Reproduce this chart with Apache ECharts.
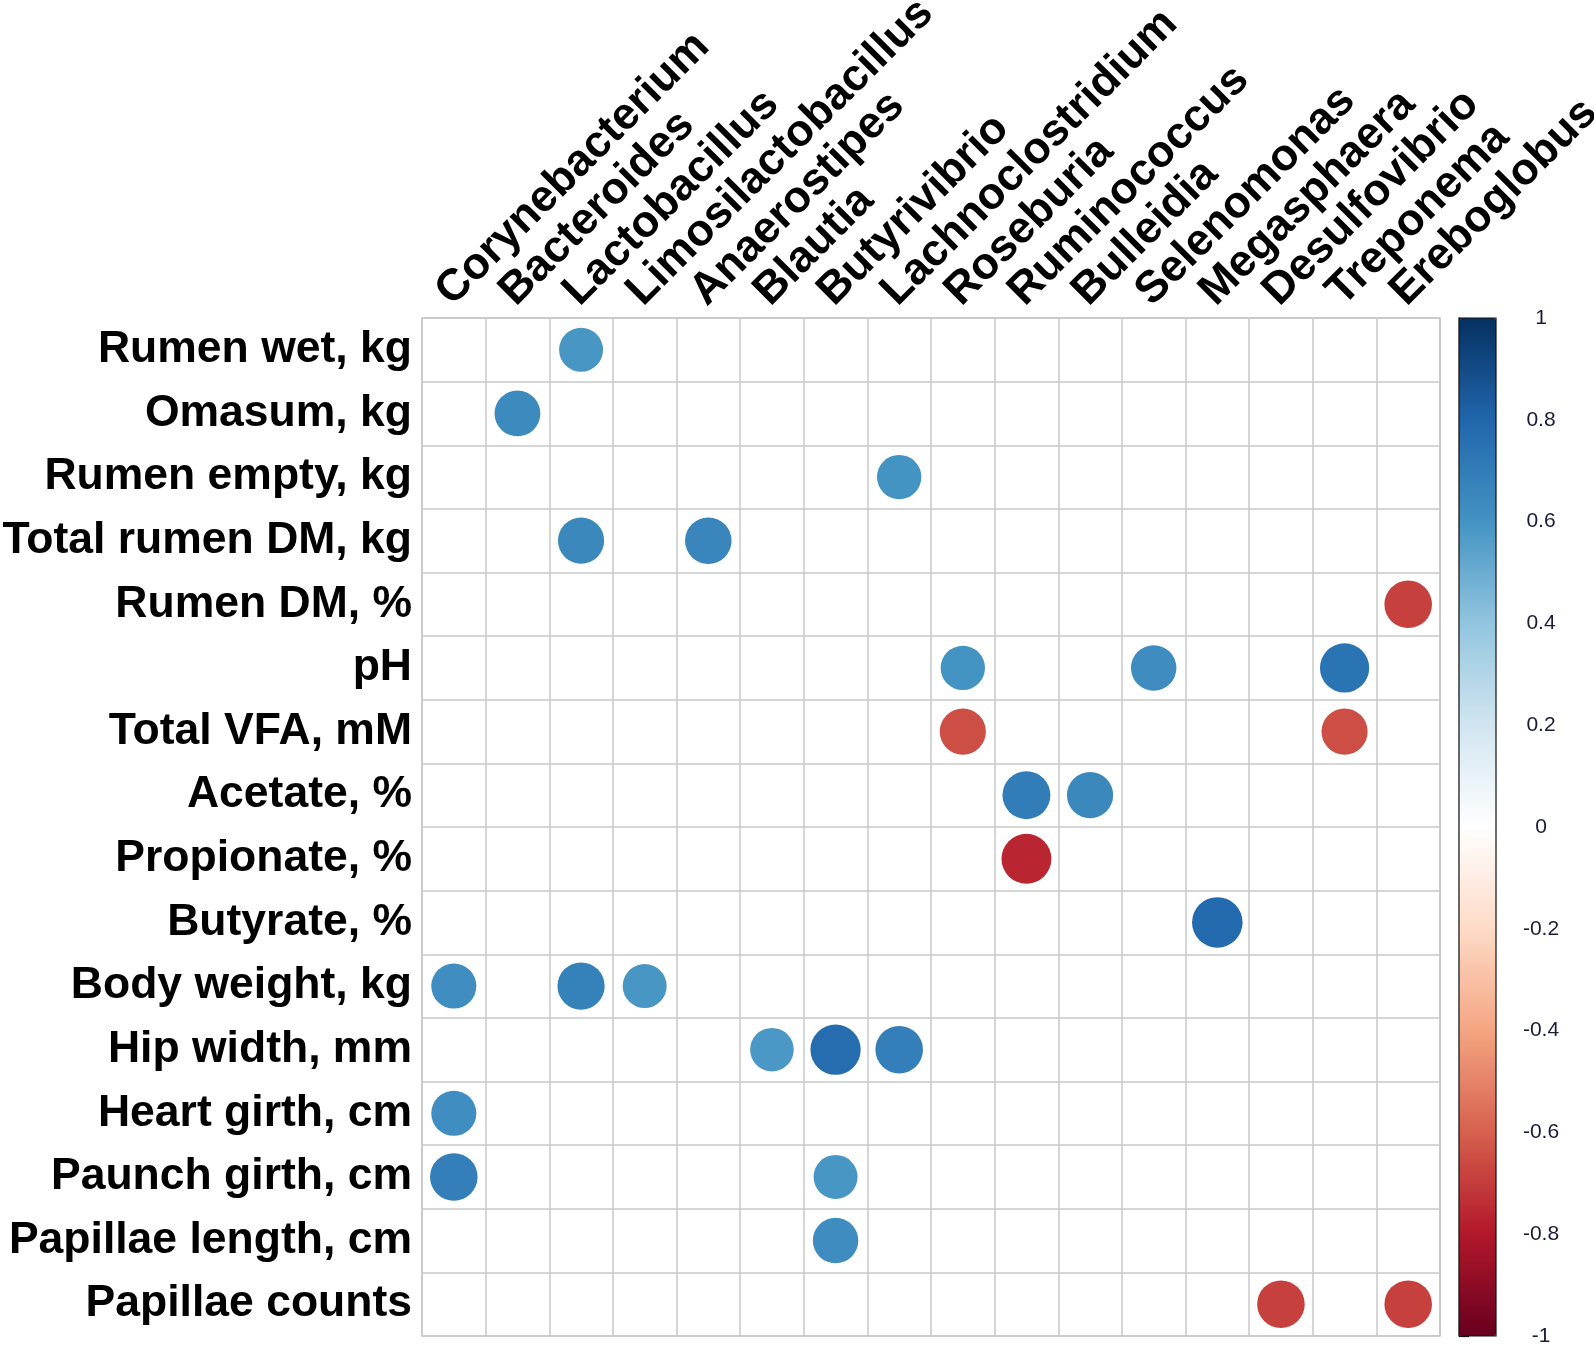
<!DOCTYPE html>
<html>
<head>
<meta charset="utf-8">
<script src="https://cdn.jsdelivr.net/npm/echarts@6/dist/echarts.min.js"></script>
<style>
html,body{margin:0;padding:0;background:#fff;}
#chart{width:1594px;height:1350px;}
</style>
</head>
<body>
<div id="chart"></div>
<script>
// ---- data ----
var genera = ['Corynebacterium','Bacteroides','Lactobacillus','Limosilactobacillus','Anaerostipes','Blautia','Butyrivibrio','Lachnoclostridium','Roseburia','Ruminococcus','Bulleidia','Selenomonas','Megasphaera','Desulfovibrio','Treponema','Ereboglobus'];
var traits = ['Rumen wet, kg','Omasum, kg','Rumen empty, kg','Total rumen DM, kg','Rumen DM, %','pH','Total VFA, mM','Acetate, %','Propionate, %','Butyrate, %','Body weight, kg','Hip width, mm','Heart girth, cm','Paunch girth, cm','Papillae length, cm','Papillae counts'];
// significant correlations: [genus, trait, r]
var corrCells = [
  ['Lactobacillus','Rumen wet, kg',0.59],
  ['Bacteroides','Omasum, kg',0.64],
  ['Lachnoclostridium','Rumen empty, kg',0.60],
  ['Lactobacillus','Total rumen DM, kg',0.65],
  ['Anaerostipes','Total rumen DM, kg',0.66],
  ['Ereboglobus','Rumen DM, %',-0.69],
  ['Roseburia','pH',0.60],
  ['Selenomonas','pH',0.63],
  ['Treponema','pH',0.74],
  ['Roseburia','Total VFA, mM',-0.65],
  ['Treponema','Total VFA, mM',-0.65],
  ['Ruminococcus','Acetate, %',0.70],
  ['Bulleidia','Acetate, %',0.65],
  ['Ruminococcus','Propionate, %',-0.76],
  ['Megasphaera','Butyrate, %',0.78],
  ['Corynebacterium','Body weight, kg',0.62],
  ['Lactobacillus','Body weight, kg',0.68],
  ['Limosilactobacillus','Body weight, kg',0.59],
  ['Blautia','Hip width, mm',0.58],
  ['Butyrivibrio','Hip width, mm',0.77],
  ['Lachnoclostridium','Hip width, mm',0.69],
  ['Corynebacterium','Heart girth, cm',0.62],
  ['Corynebacterium','Paunch girth, cm',0.69],
  ['Butyrivibrio','Paunch girth, cm',0.59],
  ['Butyrivibrio','Papillae length, cm',0.63],
  ['Desulfovibrio','Papillae counts',-0.69],
  ['Ereboglobus','Papillae counts',-0.69]
];
var colorbarTicks = [-1,-0.8,-0.6,-0.4,-0.2,0,0.2,0.4,0.6,0.8,1];
var rdbu = ['#67001F','#B2182B','#D6604D','#F4A582','#FDDBC7','#FFFFFF','#D1E5F0','#92C5DE','#4393C3','#2166AC','#053061'];

// ---- layout ----
var GL = 422, GT = 318, GW = 1018, GH = 1018;
var cellPx = GH / traits.length;
var FONT = '"Liberation Sans", Arial, Helvetica, sans-serif';

var chart = echarts.init(document.getElementById('chart'), null, {renderer:'canvas'});
var option = {
  backgroundColor: '#ffffff',
  animation: false,
  grid: [
    {left: GL, top: GT, width: GW, height: GH, outerBoundsMode: 'none', containLabel: false, show: true, borderColor: '#c8c8c8', borderWidth: 1.5, backgroundColor: 'transparent', z: 1},
    {left: 1459, top: GT, width: 37, height: GH, outerBoundsMode: 'none', containLabel: false, show: true, borderColor: '#111111', borderWidth: 1.2, backgroundColor: 'transparent', z: 10}
  ],
  xAxis: [
    {
      gridIndex: 0, type: 'category', data: genera, position: 'top', boundaryGap: true,
      axisLine: {show: false}, axisTick: {show: false},
      splitLine: {show: true, interval: 0, lineStyle: {color: '#c8c8c8', width: 1.5}},
      axisLabel: {interval: 0, rotate: -45, margin: -2, padding: [0, 0, 0, 8], verticalAlign: 'bottom', fontSize: 44.5, fontWeight: 'bold', color: '#000', fontFamily: FONT}
    },
    {gridIndex: 1, type: 'value', min: 0, max: 1, show: false}
  ],
  yAxis: [
    {
      gridIndex: 0, type: 'category', data: traits, inverse: true, boundaryGap: true,
      axisLine: {show: false}, axisTick: {show: false},
      splitLine: {show: true, interval: 0, lineStyle: {color: '#c8c8c8', width: 1.5}},
      axisLabel: {interval: 0, margin: 10, padding: [6, 0, 0, 0], fontSize: 44.5, fontWeight: 'bold', color: '#000', fontFamily: FONT}
    },
    {
      gridIndex: 1, type: 'value', min: colorbarTicks[0], max: colorbarTicks[colorbarTicks.length-1], interval: 0.2,
      position: 'right',
      axisLine: {show: true, lineStyle: {color: '#111', width: 1.2}},
      axisTick: {show: true, length: 10, lineStyle: {color: '#111', width: 1.2}},
      splitLine: {show: false},
      axisLabel: {margin: 45, align: 'center', fontSize: 21, color: '#1a1a3a', fontFamily: FONT,
        formatter: function (v) { return String(Math.round(v * 10) / 10); }}
    }
  ],
  visualMap: {
    type: 'continuous', min: -1, max: 1, dimension: 2, seriesIndex: 0,
    inRange: {color: rdbu},
    orient: 'vertical', left: 1459, top: GT, itemWidth: 37, itemHeight: GH,
    padding: 0, calculable: false, text: null, showLabel: false, hoverLink: false,
    realtime: false
  },
  series: [
    {
      type: 'scatter', xAxisIndex: 0, yAxisIndex: 0, z: 5,
      data: corrCells.map(function (c) { return [c[0], c[1], c[2]]; }),
      symbol: 'circle',
      symbolSize: function (val) { return 0.9 * Math.sqrt(Math.abs(val[2])) * cellPx; },
      itemStyle: {opacity: 1}
    }
  ]
};
chart.setOption(option);
</script>
</body>
</html>
